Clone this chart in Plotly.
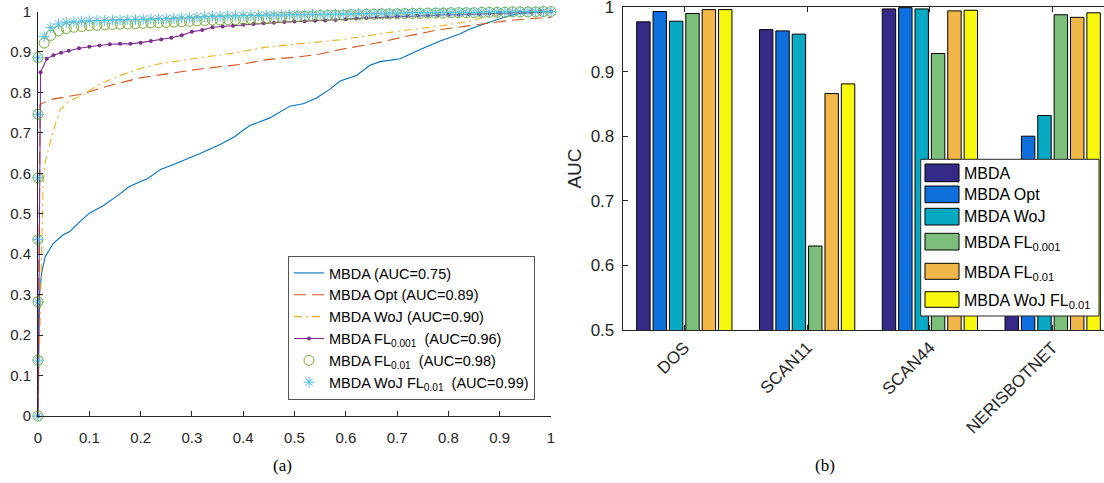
import plotly.graph_objects as go

W, H = 1104, 483

# ---------------- (a) ROC curves ----------------
MBDA_FPR = [0, 0.003, 0.007, 0.014, 0.03, 0.049, 0.062, 0.082, 0.101, 0.127,
            0.153, 0.179, 0.215, 0.238, 0.27, 0.3, 0.316, 0.355, 0.384, 0.397,
            0.413, 0.452, 0.472, 0.491, 0.517, 0.543, 0.569, 0.589, 0.621, 0.647,
            0.667, 0.706, 0.745, 0.784, 0.823, 0.842, 0.881, 0.92, 0.94, 0.97, 1.0]
MBDA_TPR = [0, 0.30, 0.353, 0.394, 0.427, 0.448, 0.456, 0.481, 0.502, 0.52,
            0.543, 0.568, 0.588, 0.609, 0.625, 0.64, 0.649, 0.671, 0.691, 0.704,
            0.718, 0.737, 0.752, 0.766, 0.772, 0.786, 0.808, 0.828, 0.842, 0.867,
            0.876, 0.883, 0.906, 0.927, 0.945, 0.957, 0.974, 0.99, 0.995, 0.998, 1.0]

OPT_FPR = [0, 0.004, 0.023, 0.082, 0.14, 0.199, 0.257, 0.316, 0.394, 0.446,
           0.51, 0.55, 0.589, 0.628, 0.66, 0.712, 0.777, 0.842, 0.92, 0.979, 1.0]
OPT_TPR = [0, 0.77, 0.782, 0.795, 0.817, 0.836, 0.847, 0.858, 0.869, 0.881,
           0.888, 0.895, 0.906, 0.914, 0.922, 0.937, 0.954, 0.965, 0.978, 0.984, 0.985]

WOJ_FPR = [0, 0.005, 0.007, 0.01, 0.014, 0.03, 0.043, 0.062, 0.082, 0.101,
           0.121, 0.16, 0.199, 0.238, 0.277, 0.316, 0.38, 0.446, 0.51, 0.589,
           0.647, 0.712, 0.777, 0.842, 0.875, 0.92, 1.0]
WOJ_TPR = [0, 0.30, 0.369, 0.575, 0.628, 0.706, 0.756, 0.78, 0.79, 0.805,
           0.821, 0.842, 0.859, 0.871, 0.879, 0.886, 0.897, 0.912, 0.92, 0.93,
           0.941, 0.953, 0.963, 0.976, 0.988, 0.995, 1.0]

FL001_FPR = [0, 0.005, 0.017, 0.03, 0.045, 0.06, 0.08, 0.1, 0.12, 0.14,
             0.16, 0.18, 0.2, 0.22, 0.24, 0.26, 0.28, 0.3, 0.32, 0.34,
             0.36, 0.38, 0.4, 0.42, 0.44, 0.46, 0.48, 0.5, 0.52, 0.54,
             0.56, 0.58, 0.6, 0.62, 0.64, 0.66, 0.68, 0.7, 0.72, 0.74,
             0.76, 0.78, 0.8, 0.82, 0.84, 0.86, 0.88, 0.9, 0.92, 0.94,
             0.96, 0.98, 1.0]
FL001_TPR = [0, 0.85, 0.883, 0.892, 0.898, 0.903, 0.909, 0.913, 0.916, 0.919,
             0.92, 0.92, 0.923, 0.927, 0.931, 0.935, 0.941, 0.95, 0.954, 0.961,
             0.963, 0.965, 0.967, 0.969, 0.971, 0.972, 0.974, 0.975, 0.976, 0.977,
             0.978, 0.979, 0.981, 0.983, 0.984, 0.986, 0.987, 0.988, 0.989, 0.99,
             0.99, 0.991, 0.992, 0.992, 0.993, 0.994, 0.995, 0.996, 0.997, 0.998,
             0.999, 1.0, 1.0]

# marker positions shared by the two FL_0.01 curves
MARK_FPR = [0, 0, 0, 0, 0, 0, 0,
            0.012, 0.025, 0.04, 0.055, 0.07, 0.085, 0.1, 0.115, 0.13, 0.145,
            0.16, 0.175, 0.19, 0.205, 0.22, 0.235, 0.25, 0.265, 0.28, 0.295,
            0.31, 0.325, 0.34, 0.355, 0.37, 0.385, 0.4, 0.415, 0.43, 0.445,
            0.46, 0.475, 0.49, 0.505, 0.52, 0.535, 0.55, 0.565, 0.58, 0.595,
            0.61, 0.625, 0.64, 0.655, 0.67, 0.685, 0.7, 0.715, 0.73, 0.745,
            0.76, 0.775, 0.79, 0.805, 0.82, 0.835, 0.85, 0.865, 0.88, 0.895,
            0.91, 0.925, 0.94, 0.955, 0.97, 0.985, 1.0]
FL01_TPR = [0, 0.138, 0.282, 0.436, 0.589, 0.746, 0.886,
            0.922, 0.941, 0.952, 0.958, 0.961, 0.963, 0.965, 0.966, 0.967, 0.968,
            0.969, 0.969, 0.970, 0.971, 0.972, 0.972, 0.973, 0.974, 0.975, 0.976,
            0.977, 0.978, 0.979, 0.979, 0.980, 0.980, 0.981, 0.981, 0.982, 0.983,
            0.984, 0.985, 0.986, 0.987, 0.988, 0.989, 0.990, 0.990, 0.991, 0.991,
            0.992, 0.992, 0.993, 0.993, 0.994, 0.994, 0.994, 0.995, 0.995, 0.995,
            0.996, 0.996, 0.996, 0.997, 0.997, 0.997, 0.997, 0.998, 0.998, 0.998,
            0.998, 0.999, 0.999, 0.999, 0.999, 1.0, 1.0]
WOJFL01_TPR = [0, 0.138, 0.282, 0.436, 0.589, 0.746, 0.886,
               0.938, 0.960, 0.969, 0.973, 0.975, 0.976, 0.977, 0.978, 0.978, 0.979,
               0.979, 0.980, 0.980, 0.981, 0.981, 0.982, 0.982, 0.983, 0.984, 0.985,
               0.986, 0.987, 0.988, 0.988, 0.989, 0.989, 0.990, 0.990, 0.990, 0.991,
               0.991, 0.991, 0.992, 0.992, 0.992, 0.993, 0.993, 0.993, 0.994, 0.994,
               0.994, 0.995, 0.995, 0.995, 0.996, 0.996, 0.996, 0.996, 0.997, 0.997,
               0.997, 0.997, 0.998, 0.998, 0.998, 0.998, 0.998, 0.999, 0.999, 0.999,
               0.999, 0.999, 0.999, 1.0, 1.0, 1.0, 1.0]

ROC_LABELS = ["MBDA (AUC=0.75)", "MBDA Opt (AUC=0.89)", "MBDA WoJ (AUC=0.90)",
              "MBDA FL<sub>0.001</sub>\u00a0 (AUC=0.96)",
              "MBDA FL<sub>0.01</sub>\u00a0 (AUC=0.98)",
              "MBDA WoJ FL<sub>0.01</sub>\u00a0 (AUC=0.99)"]

# ---------------- (b) AUC bars ----------------
CATEGORIES = ["DOS", "SCAN11", "SCAN44", "NERISBOTNET"]
AUC_MBDA = [0.977, 0.965, 0.997, 0.76]
AUC_OPT = [0.993, 0.963, 0.999, 0.800]
AUC_WOJ = [0.978, 0.958, 0.997, 0.832]
AUC_FL001 = [0.990, 0.630, 0.928, 0.988]
AUC_FL01 = [0.996, 0.866, 0.994, 0.984]
AUC_WOJFL01 = [0.996, 0.881, 0.995, 0.991]
BAR_LABELS = ["MBDA", "MBDA Opt", "MBDA WoJ", "MBDA FL<sub>0.001</sub>",
              "MBDA FL<sub>0.01</sub>", "MBDA WoJ FL<sub>0.01</sub>"]
BAR_COLORS = ["#352A87", "#0F6FDC", "#08A9C3", "#7CBF7B", "#F1B849", "#F8F80F"]
AUC_TICKS = [0.5, 0.6, 0.7, 0.8, 0.9, 1.0]
AUC_TICK_TEXT = ["0.5", "0.6", "0.7", "0.8", "0.9", "1"]

LINE_COLORS = ["#0072BD", "#D95319", "#EDB120", "#7E2F8E", "#77AC30", "#4DBEEE"]
AX = "#262626"
FONT = "Liberation Sans, Arial, sans-serif"


def px(x):
    return x / W


def py(y):
    return 1 - y / H


fig = go.Figure()

fig.add_trace(go.Scatter(x=MBDA_FPR, y=MBDA_TPR, mode="lines", name=ROC_LABELS[0],
                         line=dict(color=LINE_COLORS[0], width=1.1), cliponaxis=False))
fig.add_trace(go.Scatter(x=OPT_FPR, y=OPT_TPR, mode="lines", name=ROC_LABELS[1],
                         line=dict(color=LINE_COLORS[1], width=1.1, dash="12px,6px"),
                         cliponaxis=False))
fig.add_trace(go.Scatter(x=WOJ_FPR, y=WOJ_TPR, mode="lines", name=ROC_LABELS[2],
                         line=dict(color=LINE_COLORS[2], width=1.1, dash="8px,4px,2px,4px"),
                         cliponaxis=False))
fig.add_trace(go.Scatter(x=FL001_FPR, y=FL001_TPR, mode="lines+markers", name=ROC_LABELS[3],
                         line=dict(color=LINE_COLORS[3], width=1.1),
                         marker=dict(color=LINE_COLORS[3], size=4), cliponaxis=False))
fig.add_trace(go.Scatter(x=MARK_FPR, y=FL01_TPR, mode="markers", name=ROC_LABELS[4],
                         marker=dict(symbol="circle-open", size=10, color=LINE_COLORS[4],
                                     line=dict(color=LINE_COLORS[4], width=1)),
                         cliponaxis=False))
fig.add_trace(go.Scatter(x=MARK_FPR, y=WOJFL01_TPR, mode="markers", name=ROC_LABELS[5],
                         marker=dict(symbol="asterisk-open", size=9, color=LINE_COLORS[5],
                                     line=dict(color=LINE_COLORS[5], width=1)),
                         cliponaxis=False))

bar_series = [AUC_MBDA, AUC_OPT, AUC_WOJ, AUC_FL001, AUC_FL01, AUC_WOJFL01]
for vals, name, col in zip(bar_series, BAR_LABELS, BAR_COLORS):
    fig.add_trace(go.Bar(x=CATEGORIES, y=vals, name=name, xaxis="x2", yaxis="y2",
                         marker=dict(color=col, line=dict(color="#000000", width=1)),
                         showlegend=False))

axis_common = dict(showline=True, linecolor=AX, linewidth=1, ticks="inside", ticklen=5,
                   tickcolor=AX, showgrid=False, zeroline=False, automargin=False,
                   ticklabeloverflow="allow")

# manual legend for the bar panel
shapes = [dict(type="rect", xref="paper", yref="paper", x0=px(920.7), x1=px(1099),
               y0=py(316), y1=py(159.3), fillcolor="white",
               line=dict(color=AX, width=1), layer="above")]
sw = [(164, 181.7), (186, 202.7), (208.3, 225), (233.3, 250), (263.3, 279.3), (291.7, 307.3)]
txt_y = [173, 194.5, 216.7, 240.5, 270, 298.5]
annotations = []
for (y0, y1), ty, name, col in zip(sw, txt_y, BAR_LABELS, BAR_COLORS):
    shapes.append(dict(type="rect", xref="paper", yref="paper", x0=px(925), x1=px(959),
                       y0=py(y1), y1=py(y0), fillcolor=col,
                       line=dict(color="#000000", width=1), layer="above"))
    has_sub = "<sub>" in name
    annotations.append(dict(text=name, xref="paper", yref="paper", x=px(961.5), y=py(ty),
                            xanchor="left", yanchor="middle", showarrow=False,
                            yshift=-3 if has_sub else 0,
                            font=dict(family=FONT, size=16, color="#000000")))

annotations.append(dict(text="(a)", xref="paper", yref="paper", x=px(283), y=py(465),
                        xanchor="center", yanchor="middle", showarrow=False,
                        font=dict(family="Liberation Serif, Times New Roman, serif",
                                  size=17, color="#000000")))
annotations.append(dict(text="(b)", xref="paper", yref="paper", x=px(825), y=py(465),
                        xanchor="center", yanchor="middle", showarrow=False,
                        font=dict(family="Liberation Serif, Times New Roman, serif",
                                  size=17, color="#000000")))

fig.update_layout(
    width=W, height=H, margin=dict(l=0, r=0, t=0, b=0, autoexpand=False),
    paper_bgcolor="white", plot_bgcolor="white",
    font=dict(family=FONT, color=AX),
    barmode="group", bargap=0.2, bargroupgap=0.18,
    xaxis=dict(domain=[px(38), px(551)], range=[0, 1], dtick=0.1, anchor="y",
               tickfont=dict(size=15, color=AX), ticklabelstandoff=8, **axis_common),
    yaxis=dict(domain=[py(416), py(11.5)], range=[0, 1], dtick=0.1, anchor="x",
               tickfont=dict(size=15, color=AX), ticklabelstandoff=3, **axis_common),
    xaxis2=dict(domain=[px(622.7), 1.0], range=[-0.502, 3.418], anchor="y2",
                type="category", tickangle=-45, mirror="ticks",
                tickfont=dict(size=17, color=AX), **axis_common),
    yaxis2=dict(domain=[py(330), py(7)], range=[0.5, 1], anchor="x2",
                tickmode="array", tickvals=AUC_TICKS, ticktext=AUC_TICK_TEXT,
                tickfont=dict(size=17, color=AX), ticklabelstandoff=4,
                title=dict(text="AUC", font=dict(size=19, color=AX), standoff=4),
                **axis_common),
    legend=dict(x=px(288), y=py(256), xanchor="left", yanchor="top",
                bgcolor="white", bordercolor="#555555", borderwidth=1,
                font=dict(family=FONT, size=14.5, color="#000000"),
                tracegroupgap=0),
    shapes=shapes,
    annotations=annotations,
)

fig.write_html("out.html", config={"displayModeBar": False},
               post_script="document.body.style.margin='0';document.body.style.overflow='hidden';")
